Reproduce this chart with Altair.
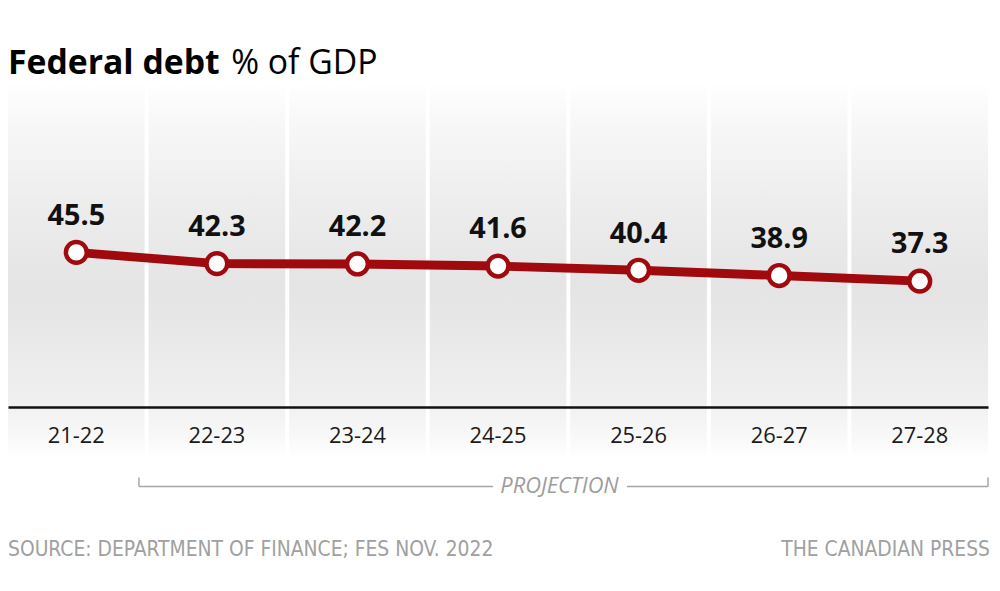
import altair as alt
import pandas as pd

years = ["21-22", "22-23", "23-24", "24-25", "25-26", "26-27", "27-28"]
debt = [45.5, 42.3, 42.2, 41.6, 40.4, 38.9, 37.3]

title_main = "Federal debt"
title_unit = "% of GDP"
projection_label = "PROJECTION"
source_text = "SOURCE: DEPARTMENT OF FINANCE; FES NOV. 2022"
credit_text = "THE CANADIAN PRESS"

df = pd.DataFrame({"year": years, "debt": debt})

W, H = 988, 380
RED = "#a00a0e"
FONT = "Open Sans"
NARROW = "DejaVu Sans Condensed, Liberation Sans Narrow, Open Sans"

xscale = alt.Scale(type="band", domain=years, paddingInner=0.028, paddingOuter=0)
yscale = alt.Scale(domain=[-13.3, 94.15], nice=False, zero=False)

gradient = alt.Gradient(
    gradient="linear", x1=0, y1=0, x2=0, y2=1,
    stops=[
        alt.GradientStop(offset=0.0, color="#ffffff"),
        alt.GradientStop(offset=0.1, color="#f8f8f8"),
        alt.GradientStop(offset=0.32, color="#ededed"),
        alt.GradientStop(offset=0.55, color="#e4e4e4"),
        alt.GradientStop(offset=0.84, color="#efefef"),
        alt.GradientStop(offset=0.95, color="#f9f9f9"),
        alt.GradientStop(offset=1.0, color="#ffffff"),
    ],
)

base = alt.Chart(df)

columns = base.mark_bar(color=gradient).encode(
    x=alt.X("year:N", scale=xscale, sort=years,
            axis=alt.Axis(orient="bottom", offset=-52, domainColor="#111111",
                          domainWidth=2.5, ticks=False, grid=False,
                          labelFont=FONT, labelFontSize=22, labelColor="#1a1a1a",
                          labelPadding=29, labelBaseline="middle", labelAngle=0,
                          title=None, zindex=1)),
    y=alt.value(0),
    y2=alt.value(H),
)

line = base.mark_line(color=RED, strokeWidth=9).encode(
    x=alt.X("year:N", scale=xscale, sort=years),
    y=alt.Y("debt:Q", scale=yscale, axis=None),
)

points = base.mark_point(filled=True, fill="white", stroke=RED, strokeWidth=4.5,
                         size=440, opacity=1, shape="circle").encode(
    x=alt.X("year:N", scale=xscale, sort=years),
    y=alt.Y("debt:Q", scale=yscale, axis=None),
)

labels = base.mark_text(font=FONT, fontWeight="bold", fontSize=29, color="#111111",
                        baseline="alphabetic", dy=-28).encode(
    x=alt.X("year:N", scale=xscale, sort=years),
    y=alt.Y("debt:Q", scale=yscale, axis=None),
    text=alt.Text("debt:Q", format=".1f"),
)

one = alt.Data(values=[{}])

title1 = alt.Chart(one).mark_text(font=FONT, fontWeight="bold", fontSize=34,
                                  color="#000000", align="left", baseline="alphabetic").encode(
    x=alt.value(0), y=alt.value(-8), text=alt.value(title_main))
title2 = alt.Chart(one).mark_text(font=FONT, fontSize=34, color="#000000",
                                  align="left", baseline="alphabetic").encode(
    x=alt.value(225), y=alt.value(-8), text=alt.value(title_unit))

GRAY = "#a6a6a6"
br_left = alt.Chart(one).mark_rule(color=GRAY, strokeWidth=1.5).encode(
    x=alt.value(132), x2=alt.value(489), y=alt.value(408))
br_right = alt.Chart(one).mark_rule(color=GRAY, strokeWidth=1.5).encode(
    x=alt.value(624), x2=alt.value(988), y=alt.value(408))
tick_l = alt.Chart(one).mark_rule(color=GRAY, strokeWidth=1.5).encode(
    x=alt.value(132), y=alt.value(399), y2=alt.value(408))
tick_r = alt.Chart(one).mark_rule(color=GRAY, strokeWidth=1.5).encode(
    x=alt.value(988), y=alt.value(399), y2=alt.value(408))
proj = alt.Chart(one).mark_text(font=FONT, fontStyle="italic", fontSize=22, color="#9d9d9d",
                                align="center", baseline="middle").encode(
    x=alt.value(556), y=alt.value(408), text=alt.value(projection_label))

src = alt.Chart(one).mark_text(font=NARROW, fontSize=21, color="#a0a0a0",
                               align="left", baseline="middle").encode(
    x=alt.value(0), y=alt.value(472), text=alt.value(source_text))
credit = alt.Chart(one).mark_text(font=NARROW, fontSize=21, color="#a0a0a0",
                                  align="right", baseline="middle").encode(
    x=alt.value(990), y=alt.value(472), text=alt.value(credit_text))

chart = alt.layer(
    columns, line, points, labels, title1, title2,
    br_left, br_right, tick_l, tick_r, proj, src, credit,
).properties(
    width=W, height=H,
    padding={"left": 0, "top": 72, "right": 4, "bottom": 120},
    autosize="none", background="white",
).configure_view(strokeWidth=0)

chart.save("out.html", embed_options={"renderer": "svg", "actions": False})
